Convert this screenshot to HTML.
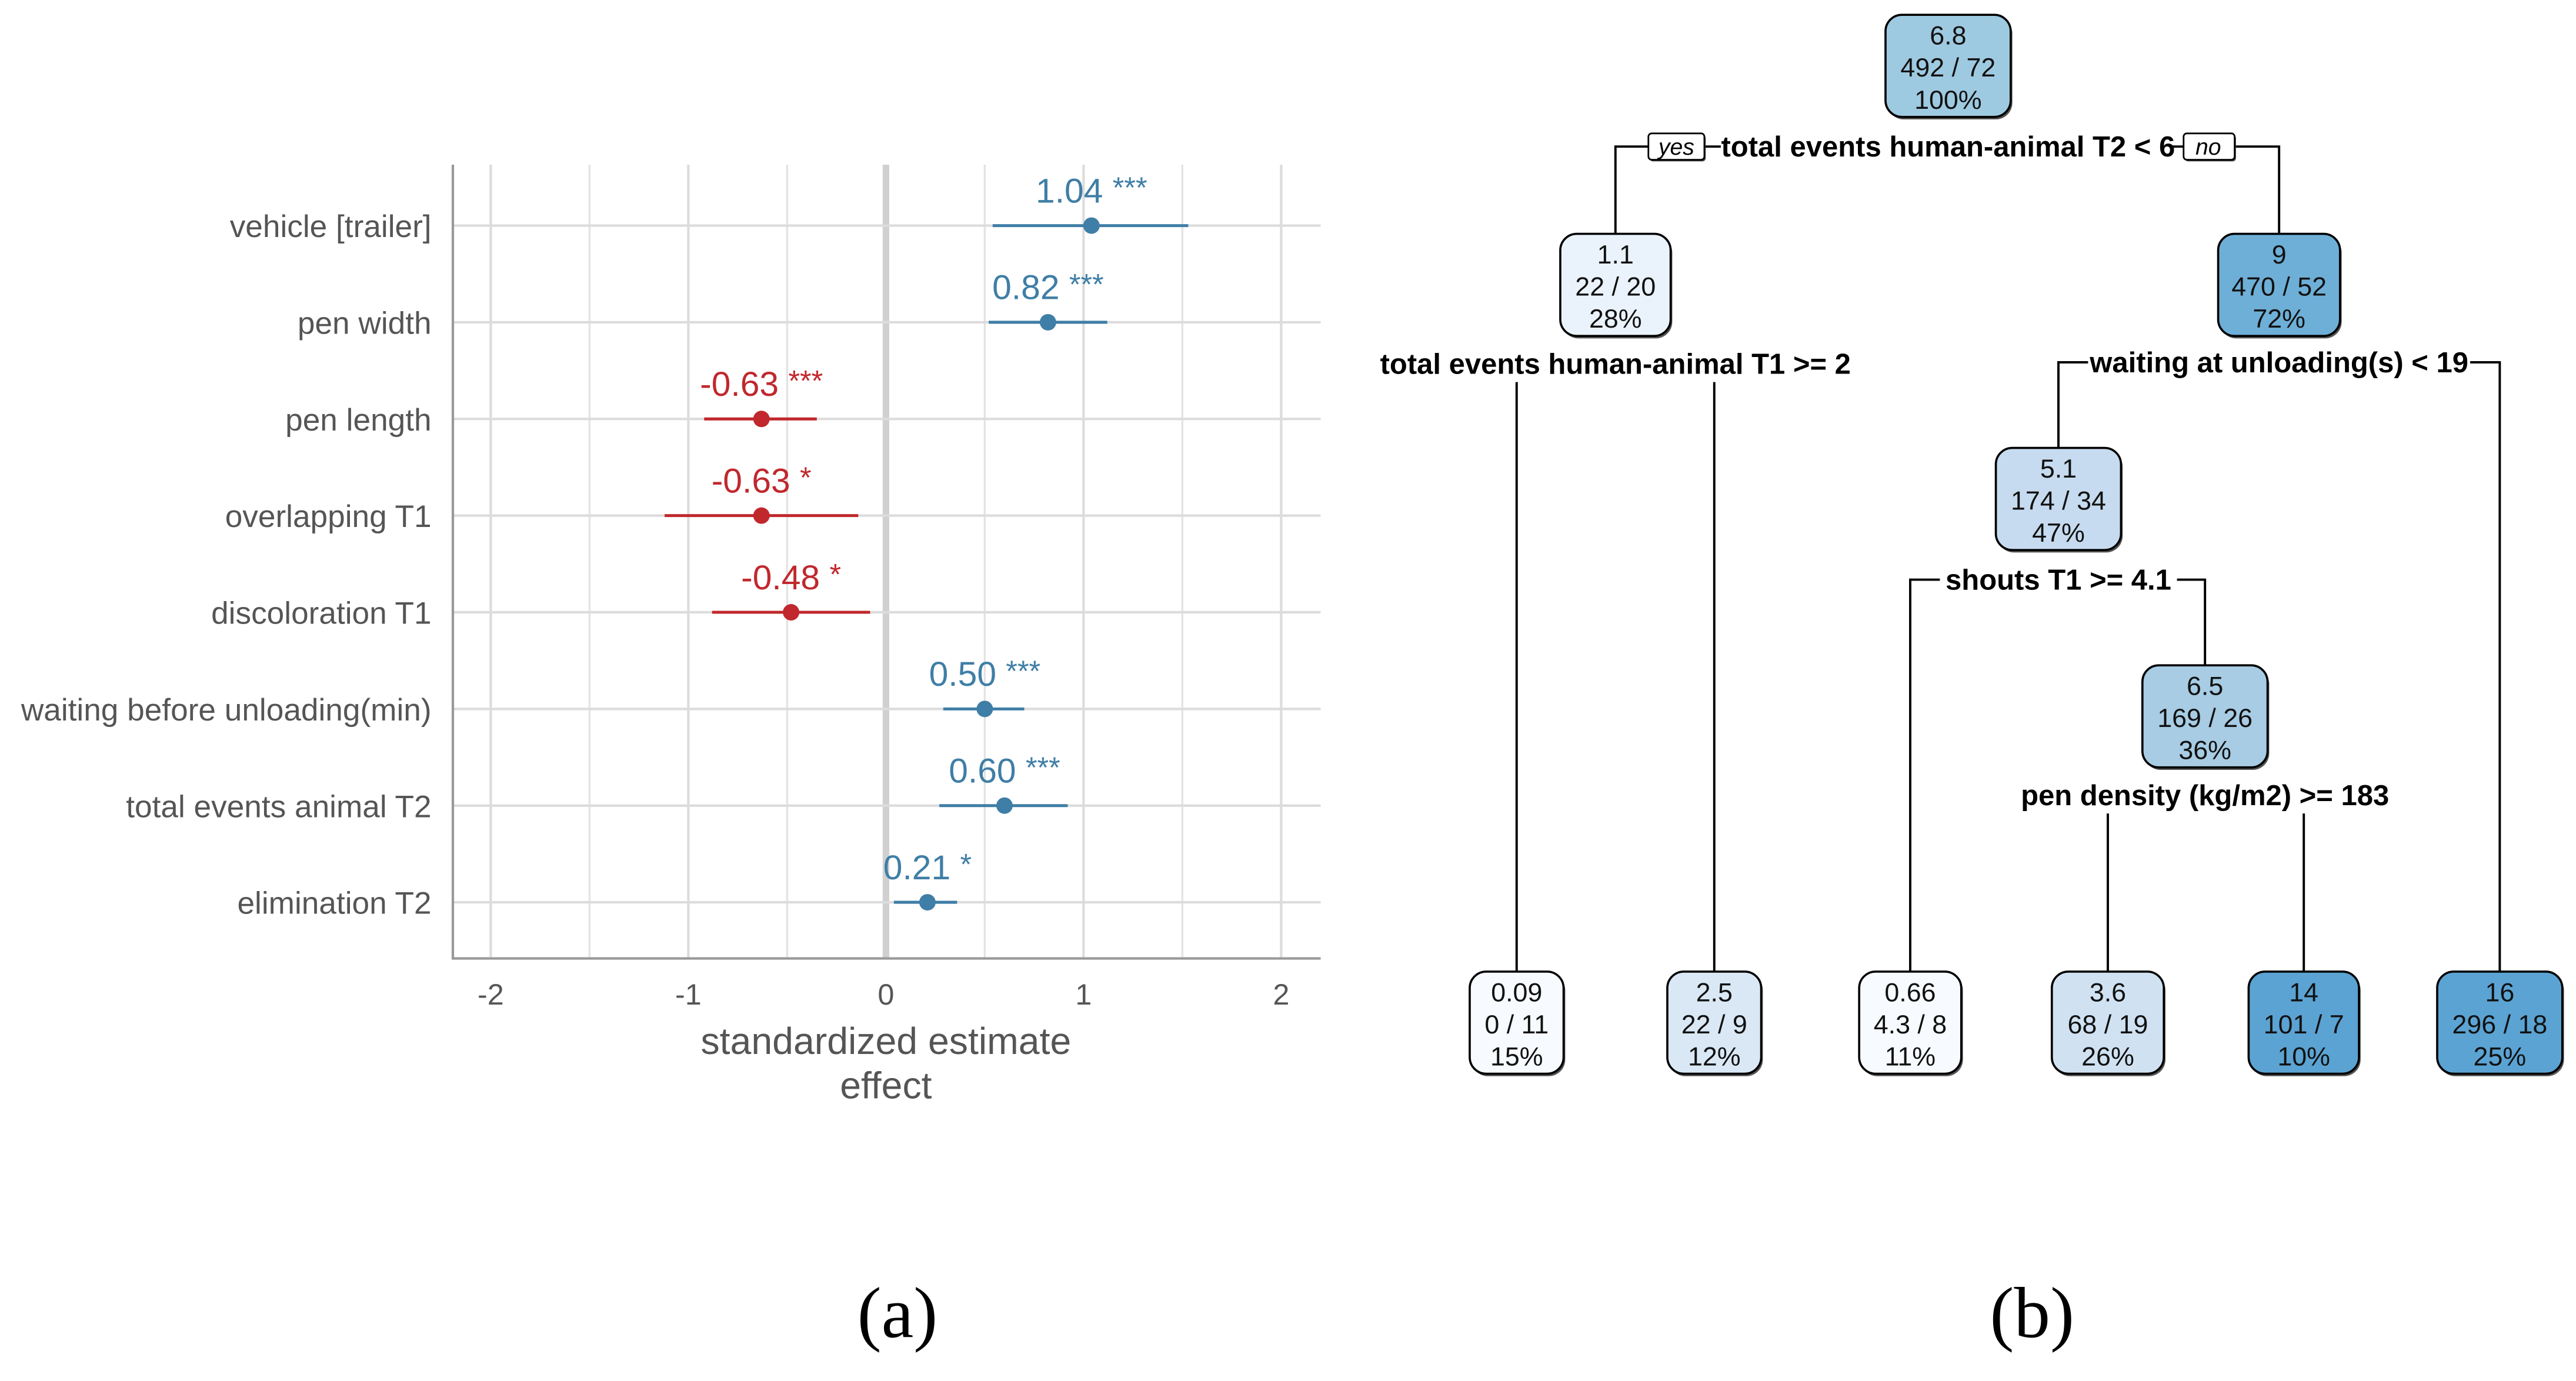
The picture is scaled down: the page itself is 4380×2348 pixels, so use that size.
<!DOCTYPE html>
<html><head><meta charset="utf-8"><style>
html,body{margin:0;padding:0;background:#fff;}
svg{display:block;}
</style></head><body>
<svg id="fig" xmlns="http://www.w3.org/2000/svg" width="4380" height="2348" viewBox="0 0 1564.3 838.6" preserveAspectRatio="none" font-family="Liberation Sans, Arial, sans-serif">
<rect x="0" y="0" width="1564.3" height="838.6" fill="#fff"/>
<g id="forest"></g>
<g id="tree"></g>
<text x="545" y="812" text-anchor="middle" font-family="Liberation Serif, serif" font-size="44" fill="#000">(a)</text>
<text x="1234" y="812" text-anchor="middle" font-family="Liberation Serif, serif" font-size="44" fill="#000">(b)</text>
</svg>
<script>
const terms = ["vehicle [trailer]","pen width","pen length","overlapping T1","discoloration T1","waiting before unloading(min)","total events animal T2","elimination T2"];
const estimates = [1.04,0.82,-0.63,-0.63,-0.48,0.50,0.60,0.21];
const lowers = [0.54,0.52,-0.92,-1.12,-0.88,0.29,0.27,0.04];
const uppers = [1.53,1.12,-0.35,-0.14,-0.08,0.70,0.92,0.36];
const stars = ["***","***","***","*","*","***","***","*"];
const xTicks = [-2,-1,0,1,2];
const xMinor = [-1.5,-0.5,0.5,1.5];

const NS="http://www.w3.org/2000/svg";
function mk(tag, attrs, parent, text){const e=document.createElementNS(NS,tag);for(const k in attrs)e.setAttribute(k,attrs[k]);if(text!==undefined)e.textContent=text;parent.appendChild(e);return e;}
const F=document.getElementById('forest');
const xScale=v=>538+120*v;
const yScale=i=>137+i*58.7;
const L=275,R=802,T=100,B=582;
xMinor.forEach(v=>{const l=mk('line',{x1:xScale(v),x2:xScale(v),y1:T,y2:B,stroke:'#e3e3e3','stroke-width':1.2},F);

});
xTicks.forEach(v=>{const l=mk('line',{x1:xScale(v),x2:xScale(v),y1:T,y2:B,stroke:v===0?'#d0d0d0':'#dcdcdc','stroke-width':v===0?4:1.5},F);


const t=mk('text',{x:xScale(v),y:610,'text-anchor':'middle','font-size':18,fill:'#555'},F,String(v));

});
terms.forEach((n,i)=>{const l=mk('line',{x1:L,x2:R,y1:yScale(i),y2:yScale(i),stroke:'#dcdcdc','stroke-width':1.5},F);

});
const ax=mk('path',{d:`M${L},${T} V${B} H${R}`,fill:'none',stroke:'#999','stroke-width':1.5},F);


terms.forEach((n,i)=>{
 const y=yScale(i);const col=estimates[i]<0?'#c0282d':'#3f7ea6';
 const t=mk('text',{x:262,y:y+7,'text-anchor':'end','font-size':19,fill:'#555','font-stretch':'condensed'},F,n);
 
 
 const ci=mk('line',{x1:xScale(lowers[i]),x2:xScale(uppers[i]),y1:y,y2:y,stroke:col,'stroke-width':1.8},F);
 
 
 const p=mk('circle',{cx:xScale(estimates[i]),cy:y,r:5,fill:col},F);
 
 
 const v=mk('text',{x:xScale(estimates[i]),y:y-14,'text-anchor':'middle','font-size':21,fill:col},F);
 
 
 v.textContent=estimates[i].toFixed(2)+' ';
 mk('tspan',{'font-size':18,dy:-3},v,stars[i]);
});
const xt=mk('text',{x:538,y:640,'text-anchor':'middle','font-size':23,fill:'#555'},F,'standardized estimate');


const xt2=mk('text',{x:538,y:667,'text-anchor':'middle','font-size':23,fill:'#555'},F,'effect');



// Tree
const G=document.getElementById('tree');
function line(d){const p=mk('path',{d:d,fill:'none',stroke:'#000','stroke-width':1.4},G);

}
function node(cx,y,w,fill,lines){const g=mk('g',{},G);


mk('rect',{x:cx-w/2+1,y:y+1.5,width:w,height:62,rx:10,fill:'#555'},g);
mk('rect',{x:cx-w/2,y:y,width:w,height:62,rx:10,fill:fill,stroke:'#000','stroke-width':1.3},g);
lines.forEach((t,k)=>mk('text',{x:cx,y:y+18+k*19.5,'text-anchor':'middle','font-size':16,fill:'#111'},g,t));}
function split(cx,y,t){const e=mk('text',{x:cx,y:y,'text-anchor':'middle','font-size':17.5,'font-weight':'bold',fill:'#000'},G,t);

}
line('M1001,89 H981 V142'); line('M1357,89 H1384 V142');
line('M921,232 V590'); line('M1041,232 V590');
line('M1268,220 H1250 V272'); line('M1500,220 H1518 V590');
line('M1178,352 H1160 V590'); line('M1322,352 H1339 V404');
line('M1280,494 V590'); line('M1399,494 V590');
line('M1035,89 H1045'); line('M1318,89 H1326');
split(1183,95,'total events human-animal T2 < 6');
[['yes',1018,1001,34],['no',1341,1326,31]].forEach(b=>{const g=mk('g',{},G);


mk('rect',{x:b[2]+0.8,y:82,width:b[3],height:16,rx:2,fill:'#444'},g);
mk('rect',{x:b[2],y:81,width:b[3],height:16,rx:2,fill:'#fff',stroke:'#000','stroke-width':1},g);
mk('text',{x:b[1],y:94,'text-anchor':'middle','font-size':14,'font-style':'italic',fill:'#000'},g,b[0]);});
split(981,227,'total events human-animal T1 >= 2');
split(1384,226,'waiting at unloading(s) < 19');
split(1250,358,'shouts T1 >= 4.1');
split(1339,489,'pen density (kg/m2) >= 183');
node(1183,9,76,'#9ecae1',['6.8','492 / 72','100%']);
node(981,142,67,'#eaf3fc',['1.1','22 / 20','28%']);
node(1384,142,74,'#6eafd7',['9','470 / 52','72%']);
node(1250,272,76,'#c6dbef',['5.1','174 / 34','47%']);
node(1339,404,76,'#a7cce4',['6.5','169 / 26','36%']);
node(921,590,57,'#f7fbff',['0.09','0 / 11','15%']);
node(1041,590,57,'#dae8f5',['2.5','22 / 9','12%']);
node(1160,590,62,'#f7fbff',['0.66','4.3 / 8','11%']);
node(1280,590,68,'#d0e2f2',['3.6','68 / 19','26%']);
node(1399,590,67,'#5ba3d3',['14','101 / 7','10%']);
node(1518,590,76,'#5ba3d3',['16','296 / 18','25%']);
</script>
</body></html>
